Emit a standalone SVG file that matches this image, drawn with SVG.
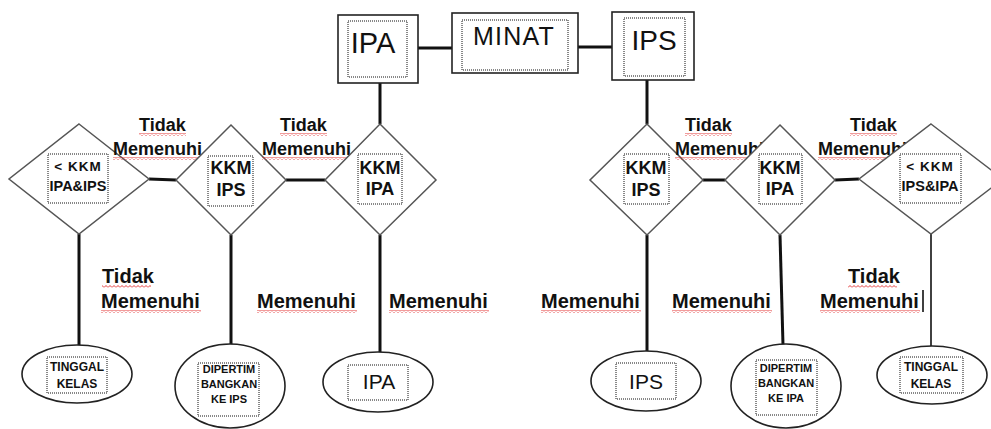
<svg xmlns="http://www.w3.org/2000/svg" width="991" height="429" viewBox="0 0 991 429">
<defs>
<pattern id="wave" x="0" y="0" width="4" height="3" patternUnits="userSpaceOnUse">
<path d="M0,2.5 L2,0.5 L4,2.5" fill="none" stroke="#e02020" stroke-width="0.9"/>
</pattern>
<style>
.box{fill:#fff;stroke:#222;stroke-width:1.6}
.dot{fill:none;stroke:#111;stroke-width:1;stroke-dasharray:1 1}
.dia{fill:#fff;stroke:#555;stroke-width:1.5}
.ell{fill:#fff;stroke:#222;stroke-width:1.6}
.con line{stroke:#111;stroke-width:3}
.big{font-family:"Liberation Sans",Arial,sans-serif;fill:#111}
.b{font-family:"Liberation Sans",Arial,sans-serif;font-weight:bold;fill:#111}
.lbl{font-family:"Liberation Sans",Arial,sans-serif;font-weight:bold;fill:#111;font-size:18px}
.lbl2{font-family:"Liberation Sans",Arial,sans-serif;font-weight:bold;fill:#111;font-size:20px}
.wv{fill:url(#wave)}
</style>
</defs>
<rect width="991" height="429" fill="#fff"/>

<g class="con" id="connectors">
<line x1="418" y1="48" x2="452" y2="48"/>
<line x1="578" y1="47" x2="612" y2="47"/>
<line x1="380" y1="83" x2="380" y2="124"/>
<line x1="647" y1="80" x2="647" y2="124"/>
<line x1="149" y1="179" x2="176" y2="180"/>
<line x1="286" y1="180" x2="325" y2="180"/>
<line x1="703" y1="180" x2="725" y2="180"/>
<line x1="835" y1="180" x2="859" y2="179"/>
<line x1="79" y1="234" x2="79" y2="345"/>
<line x1="231" y1="235" x2="231" y2="345"/>
<line x1="380" y1="235" x2="380" y2="352"/>
<line x1="647" y1="235" x2="647" y2="351"/>
<line x1="780" y1="235" x2="783" y2="345"/>
<line x1="931" y1="234" x2="931" y2="346" style="stroke-width:1.6"/>
</g>

<g id="ipa-top">
<rect class="box" x="338" y="15" width="80" height="68"/>
<rect class="dot" x="348" y="21" width="59" height="56"/>
<text class="big" x="373" y="53" font-size="29" text-anchor="middle">IPA</text>
</g>
<g id="minat">
<rect class="box" x="452" y="13" width="126" height="60"/>
<rect class="dot" x="462" y="20" width="106" height="50"/>
<text class="big" x="514" y="45" font-size="25" letter-spacing="1.2" text-anchor="middle">MINAT</text>
</g>
<g id="ips-top">
<rect class="box" x="612" y="12" width="82" height="68"/>
<rect class="dot" x="624" y="18" width="61" height="58"/>
<text class="big" x="654" y="50" font-size="28" text-anchor="middle">IPS</text>
</g>

<g id="d1">
<polygon class="dia" points="79,124 149,179 79,234 9,179"/>
<rect class="dot" x="48" y="154" width="60" height="49"/>
<text class="b" x="78" y="171" font-size="13.5" text-anchor="middle" letter-spacing="1">&lt; KKM</text>
<text class="b" x="78" y="191" font-size="14.5" text-anchor="middle">IPA&amp;IPS</text>
</g>
<g id="lbl-td1">
<text class="lbl" x="139" y="131">Tidak</text>
<text class="lbl" x="113" y="155">Memenuhi</text>
<rect class="wv" x="139" y="133" width="47" height="3"/>
<rect class="wv" x="113" y="157" width="89" height="3"/>
</g>
<g id="d2">
<polygon class="dia" points="231,125 286,180 231,235 176,180"/>
<rect class="dot" x="208" y="156" width="45" height="50"/>
<text class="b" x="231" y="174" font-size="18" text-anchor="middle">KKM</text>
<text class="b" x="231" y="196" font-size="18" text-anchor="middle">IPS</text>
</g>
<g id="lbl-td2">
<text class="lbl" x="280" y="131">Tidak</text>
<text class="lbl" x="262" y="155">Memenuhi</text>
<rect class="wv" x="280" y="133" width="47" height="3"/>
<rect class="wv" x="262" y="157" width="89" height="3"/>
</g>
<g id="d3">
<polygon class="dia" points="380,124 436,180 380,235 325,180"/>
<rect class="dot" x="358" y="154" width="44" height="50"/>
<text class="b" x="380" y="174" font-size="18" text-anchor="middle">KKM</text>
<text class="b" x="380" y="195" font-size="18" text-anchor="middle">IPA</text>
</g>

<g id="d4">
<polygon class="dia" points="647,124 703,180 647,235 590,180"/>
<rect class="dot" x="624" y="154" width="45" height="50"/>
<text class="b" x="646" y="174" font-size="18" text-anchor="middle">KKM</text>
<text class="b" x="646" y="196" font-size="18" text-anchor="middle">IPS</text>
</g>
<g id="lbl-td3">
<text class="lbl" x="685" y="131">Tidak</text>
<text class="lbl" x="675" y="155">Memenuhi</text>
<rect class="wv" x="685" y="133" width="47" height="3"/>
<rect class="wv" x="675" y="157" width="89" height="3"/>
</g>
<g id="d5">
<polygon class="dia" points="780,125 835,180 780,235 725,180"/>
<rect class="dot" x="759" y="154" width="43" height="50"/>
<text class="b" x="780" y="174" font-size="18" text-anchor="middle">KKM</text>
<text class="b" x="780" y="195" font-size="18" text-anchor="middle">IPA</text>
</g>
<g id="lbl-td4">
<text class="lbl" x="850" y="131">Tidak</text>
<text class="lbl" x="818" y="155">Memenuhi</text>
<rect class="wv" x="850" y="133" width="47" height="3"/>
<rect class="wv" x="818" y="157" width="89" height="3"/>
</g>
<g id="d6">
<polygon class="dia" points="931,124 1003,179 931,234 859,179"/>
<rect class="dot" x="900" y="154" width="61" height="49"/>
<text class="b" x="930" y="171" font-size="13.5" text-anchor="middle" letter-spacing="1">&lt; KKM</text>
<text class="b" x="930" y="191" font-size="14.5" text-anchor="middle">IPS&amp;IPA</text>
</g>

<g id="lbl-bottom">
<text class="lbl2" x="102" y="283">Tidak</text>
<text class="lbl2" x="101" y="308">Memenuhi</text>
<rect class="wv" x="102" y="285" width="49" height="3"/>
<rect class="wv" x="101" y="310" width="100" height="3"/>
<text class="lbl2" x="257" y="308">Memenuhi</text>
<rect class="wv" x="257" y="310" width="100" height="3"/>
<text class="lbl2" x="389" y="308">Memenuhi</text>
<rect class="wv" x="389" y="310" width="100" height="3"/>
<text class="lbl2" x="541" y="308">Memenuhi</text>
<rect class="wv" x="541" y="310" width="100" height="3"/>
<text class="lbl2" x="672" y="308">Memenuhi</text>
<rect class="wv" x="672" y="310" width="100" height="3"/>
<text class="lbl2" x="848" y="283">Tidak</text>
<text class="lbl2" x="820" y="308">Memenuhi</text>
<rect class="wv" x="848" y="285" width="49" height="3"/>
<rect class="wv" x="820" y="310" width="100" height="3"/>
<line x1="923" y1="290" x2="923" y2="312" stroke="#000" stroke-width="1.5"/>
</g>

<g id="e1">
<ellipse class="ell" cx="77" cy="374" rx="55" ry="29"/>
<rect class="dot" x="47" y="357" width="60" height="36"/>
<text class="b" x="77" y="371" font-size="12" text-anchor="middle">TINGGAL</text>
<text class="b" x="77" y="388" font-size="12" text-anchor="middle">KELAS</text>
</g>
<g id="e2">
<ellipse class="ell" cx="230" cy="386" rx="55" ry="42"/>
<rect class="dot" x="198" y="363" width="61" height="53"/>
<text class="b" x="229" y="373" font-size="11" text-anchor="middle">DIPERTIM</text>
<text class="b" x="229" y="388" font-size="11" text-anchor="middle">BANGKAN</text>
<text class="b" x="229" y="403" font-size="11" text-anchor="middle">KE IPS</text>
</g>
<g id="e3">
<ellipse class="ell" cx="378" cy="382" rx="55" ry="30"/>
<rect class="dot" x="348" y="365" width="60" height="35"/>
<text class="big" x="379" y="389" font-size="21" text-anchor="middle">IPA</text>
</g>
<g id="e4">
<ellipse class="ell" cx="646" cy="381" rx="55" ry="30"/>
<rect class="dot" x="616" y="363" width="60" height="36"/>
<text class="big" x="646" y="389" font-size="21" text-anchor="middle">IPS</text>
</g>
<g id="e5">
<ellipse class="ell" cx="786" cy="386" rx="55" ry="42"/>
<rect class="dot" x="756" y="360" width="61" height="55"/>
<text class="b" x="786" y="372" font-size="11" text-anchor="middle">DIPERTIM</text>
<text class="b" x="786" y="387" font-size="11" text-anchor="middle">BANGKAN</text>
<text class="b" x="786" y="402" font-size="11" text-anchor="middle">KE IPA</text>
</g>
<g id="e6">
<ellipse class="ell" cx="932" cy="375" rx="55" ry="29"/>
<rect class="dot" x="900" y="357" width="63" height="36"/>
<text class="b" x="931" y="371" font-size="12" text-anchor="middle">TINGGAL</text>
<text class="b" x="931" y="388" font-size="12" text-anchor="middle">KELAS</text>
</g>
</svg>
